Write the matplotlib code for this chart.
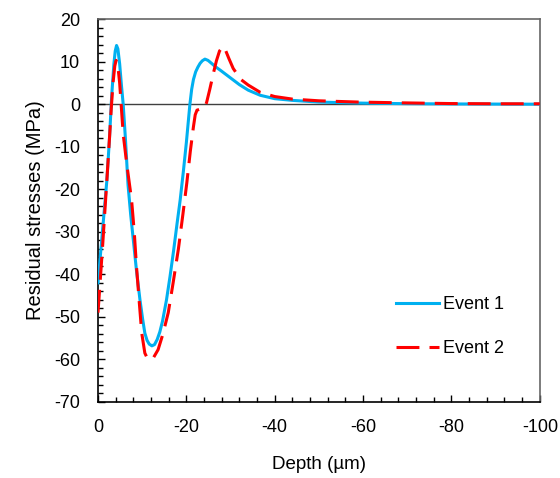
import matplotlib.pyplot as plt
from matplotlib.ticker import MultipleLocator

plt.rcParams['font.family'] = ['Liberation Sans', 'DejaVu Sans']
plt.rcParams['axes.unicode_minus'] = False

# depth (µm, plotted as negative) and residual stress (MPa)
depth1 = [0, 1, 2, 2.6, 3.1, 3.6, 3.9, 4.2, 4.5, 4.9, 5.3, 5.7, 6.2, 6.8, 7.4, 8.0,
          8.7, 9.5, 10.1, 10.6, 11.1, 11.6, 12.2, 12.8, 13.4, 14.0, 14.6, 15.5, 16.3,
          17.1, 17.9, 18.6, 19.3, 20.0, 20.4, 20.8, 21.2, 21.6, 22.1, 22.6, 23.1, 23.6,
          24.2, 24.9, 25.7, 26.6, 27.8, 29.2, 30.6, 32.0, 34.0, 36.7, 40.0, 44.0, 50.0,
          60.0, 70.0, 80.0, 90.0, 100.0]
stress1 = [-42, -30, -18, -8, 2, 9.5, 12.5, 13.8, 13.0, 9.5, 4.5, 0, -8, -19, -26, -32,
           -39, -46, -50.5, -53.8, -55.5, -56.4, -56.8, -56.5, -55.3, -53.5, -51, -46, -40.5,
           -34.5, -28, -22.5, -16, -9, -4.5, 0, 3.5, 5.8, 7.6, 8.7, 9.6, 10.2,
           10.6, 10.3, 9.6, 8.8, 7.9, 6.8, 5.7, 4.6, 3.3, 2.1, 1.3, 0.9, 0.5,
           0.25, 0.12, 0.06, 0.03, 0.0]

depth2 = [0, 1, 2, 2.6, 3.0, 3.4, 3.8, 4.1, 4.5, 4.9, 5.3, 5.7, 6.5, 7.6, 8.2, 8.7,
          9.3, 9.9, 10.6, 11.2, 11.8, 12.6, 13.6, 14.7, 15.9, 17.0, 18.2, 19.2, 20.1,
          20.9, 21.6, 22.0, 22.4, 23.3, 24.2, 24.6, 25.3, 26.1, 26.8, 27.5, 28.3, 28.7,
          29.6, 30.6, 31.4, 32.1, 34.0, 36.7, 40.0, 44.0, 50.0, 59.0, 70.0, 80.0, 90.0,
          100.0]
stress2 = [-49, -34, -18, -8, -1, 5, 9, 10.3, 9.0, 5, -1, -7, -14, -22.5, -30, -38,
           -46, -53.8, -58.5, -59.8, -60.1, -59.5, -57.7, -54, -49, -42, -34, -26, -18.5,
           -11, -5.3, -2.5, -1.4, -1.1, -0.8, 0.5, 3.5, 7.2, 10.2, 12.5, 13.6, 13.1,
           10.8, 8.4, 7.2, 6.0, 4.5, 2.8, 1.8, 1.2, 0.8, 0.5, 0.3, 0.15, 0.1,
           0.1]

fig = plt.figure(figsize=(5.6, 4.78), dpi=100)
ax = fig.add_axes([0.175, 0.159, 0.789, 0.801])

ax.axhline(0, color='#404040', lw=1.0, zorder=1)
ax.plot([-d for d in depth1], stress1, color='#00B0F0', lw=2.2, label='Event 1', zorder=3)
ax.plot([-d for d in depth2], stress2, color='#FF0000', lw=2.2, dashes=(7.5, 3.3),
        label='Event 2', zorder=4)

ax.set_xlim(0, -100)
ax.set_ylim(-70, 20)
ax.xaxis.set_major_locator(MultipleLocator(20))
ax.xaxis.set_minor_locator(MultipleLocator(4))
ax.yaxis.set_major_locator(MultipleLocator(10))
ax.yaxis.set_minor_locator(MultipleLocator(2))
ax.tick_params(which='both', direction='in', labelsize=13, colors='black')
ax.tick_params(which='major', length=5, width=1)
ax.tick_params(which='minor', length=3.5, width=1)
ax.tick_params(axis='x', pad=12)
ax.tick_params(axis='y', pad=13)

for side in ['left', 'bottom']:
    ax.spines[side].set_color('black')
    ax.spines[side].set_linewidth(1.2)
for side in ['top', 'right']:
    ax.spines[side].set_color('#666666')
    ax.spines[side].set_linewidth(1.2)

ax.set_xlabel('Depth (µm)', fontsize=13.5, labelpad=15)
ax.set_ylabel('Residual stresses (MPa)', fontsize=14.5, labelpad=6)

ax.legend(loc='center left', bbox_to_anchor=(0.654, 0.197), frameon=False, fontsize=13,
          borderpad=0, handlelength=2.4, handletextpad=0.2, labelspacing=1.5)

plt.savefig('out.png', dpi=100)
